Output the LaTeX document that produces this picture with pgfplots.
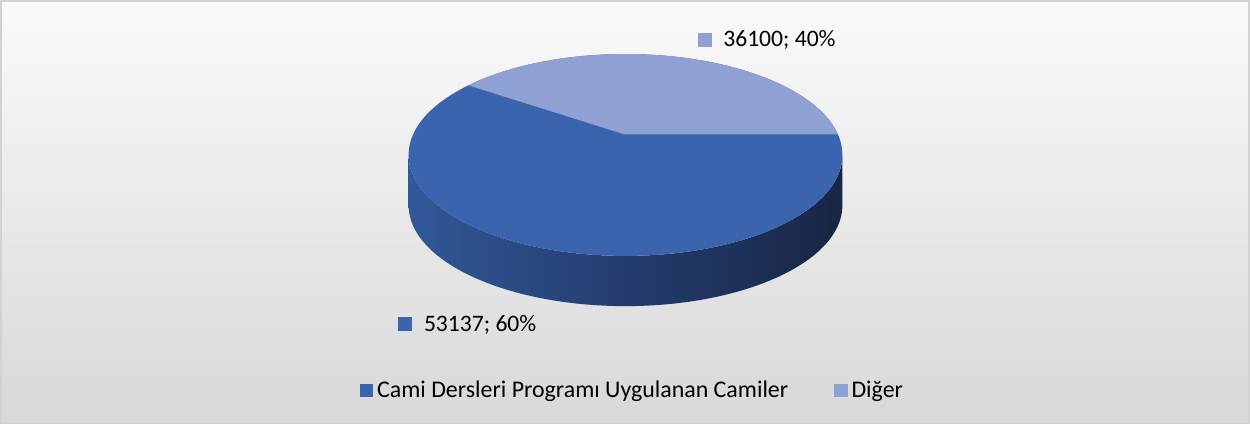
\documentclass[border=0pt]{standalone}
\usepackage{pgfplots}
\pgfplotsset{compat=1.18}
\usepackage{fontspec}
\setmainfont{Carlito}
\definecolor{cami}{RGB}{58,100,173}
\definecolor{diger}{RGB}{143,161,210}
\definecolor{sideL}{RGB}{50,88,152}
\definecolor{sideM}{RGB}{35,60,110}
\definecolor{sideR}{RGB}{24,38,68}
\definecolor{bgtop}{RGB}{250,250,250}
\definecolor{bgbot}{RGB}{216,216,216}
\definecolor{frame}{RGB}{210,210,210}
\def\vCami{53137}
\def\vDiger{36100}
\begin{document}
\begin{tikzpicture}
\begin{axis}[hide axis, scale only axis, width=625pt, height=213.5pt,
  xmin=0, xmax=1250, ymin=0, ymax=427, clip=false,
  legend columns=2,
  legend style={at={(axis cs:634,35)}, anchor=center, draw=none, fill=none,
    font=\fontsize{11.9pt}{14pt}\selectfont,
    /tikz/every even column/.append style={column sep=21pt}},
  legend image code/.code={\fill[#1,draw=none] (-3.5pt,-3.25pt) rectangle (3pt,3.25pt);},
]
% background
\fill[top color=bgtop, bottom color=bgbot] (axis cs:4,423) rectangle (axis cs:1247,2);
\draw[frame, line width=0.8pt] (axis cs:4,423) rectangle (axis cs:1247,2);
% side of the pie
\path[left color=sideL, right color=sideR, middle color=sideM]
  (axis cs:410,269.5) -- (axis cs:410,219.5)
  arc[start angle=180, end angle=360, x radius=216, y radius=100.5]
  -- (axis cs:842,269.5)
  arc[start angle=360, end angle=180, x radius=216, y radius=100.5] -- cycle;
% top: Cami slice
\fill[cami] (axis cs:626,269.5) ellipse[x radius=216, y radius=100.5];
% top: Diger slice
\fill[diger] (axis cs:625,290) -- (axis cs:837.5,290)
  arc[start angle=11.77, end angle=136.4, x radius=216, y radius=100.5] -- cycle;
% data labels
\node[anchor=base west, inner sep=0pt, font=\fontsize{11.75pt}{14pt}\selectfont]
  at (axis cs:698,377) {\textcolor{diger}{\rule{7pt}{7pt}}\hspace{5.5pt}\vDiger; 40\%};
\node[anchor=base west, inner sep=0pt, font=\fontsize{11.75pt}{14pt}\selectfont]
  at (axis cs:399,94) {\textcolor{cami}{\rule{7pt}{7pt}}\hspace{6pt}\vCami; 60\%};
\addlegendimage{fill=cami}
\addlegendentry{Cami Dersleri Programı Uygulanan Camiler}
\addlegendimage{fill=diger}
\addlegendentry{Diğer}
\end{axis}
\end{tikzpicture}
\end{document}
